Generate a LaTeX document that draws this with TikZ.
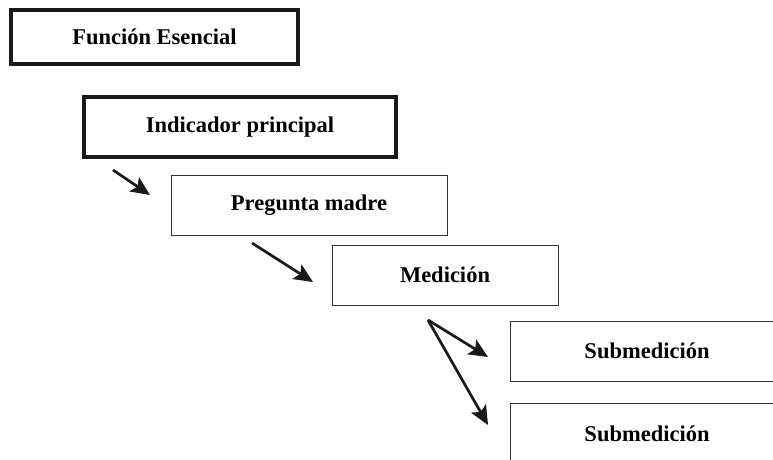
\documentclass[tikz,border=0pt]{standalone}
\usepackage{fontspec}
\setmainfont{Liberation Serif}
\usetikzlibrary{arrows.meta}
\begin{document}
\begin{tikzpicture}[x=1pt,y=-1pt,
  box/.style={draw=black!80, line width=1pt, fill=white, inner sep=0pt,
    font=\bfseries\fontsize{22.5}{24}\selectfont},
  thickbox/.style={box, draw=black!90, line width=4.5pt},
  arr/.style={draw=black!90, line width=2.7pt, -{Stealth[length=19pt,width=17pt,inset=4pt]}}]
\useasboundingbox (0,0) rectangle (773,460);
\clip (0,0) rectangle (773,460);
\node[thickbox, minimum width=287pt, minimum height=54pt] (fe) at (154.5,37) {Función Esencial};
\node[thickbox, minimum width=312pt, minimum height=60pt] (ip) at (240,127) {Indicador principal};
\node[box, minimum width=276pt, minimum height=60pt] (pm) at (309,205) {Pregunta madre};
\node[box, minimum width=226pt, minimum height=60pt] (me) at (445,275) {Medición};
\node[box, minimum width=274pt, minimum height=60pt] (s1) at (647,351) {Submedición};
\node[box, minimum width=274pt, minimum height=62pt] (s2) at (647,434) {Submedición};
\coordinate (a1s) at (113,170);
\coordinate (a1e) at (150,195);
\coordinate (a2s) at (252,243);
\coordinate (a2e) at (313,282);
\coordinate (a3s) at (428,320);
\coordinate (a3e) at (488,357);
\coordinate (a4e) at (488,425);
\draw[arr] (a1s) -- (a1e);
\draw[arr] (a2s) -- (a2e);
\draw[arr] (a3s) -- (a3e);
\draw[arr] (a3s) -- (a4e);
\end{tikzpicture}
\end{document}
